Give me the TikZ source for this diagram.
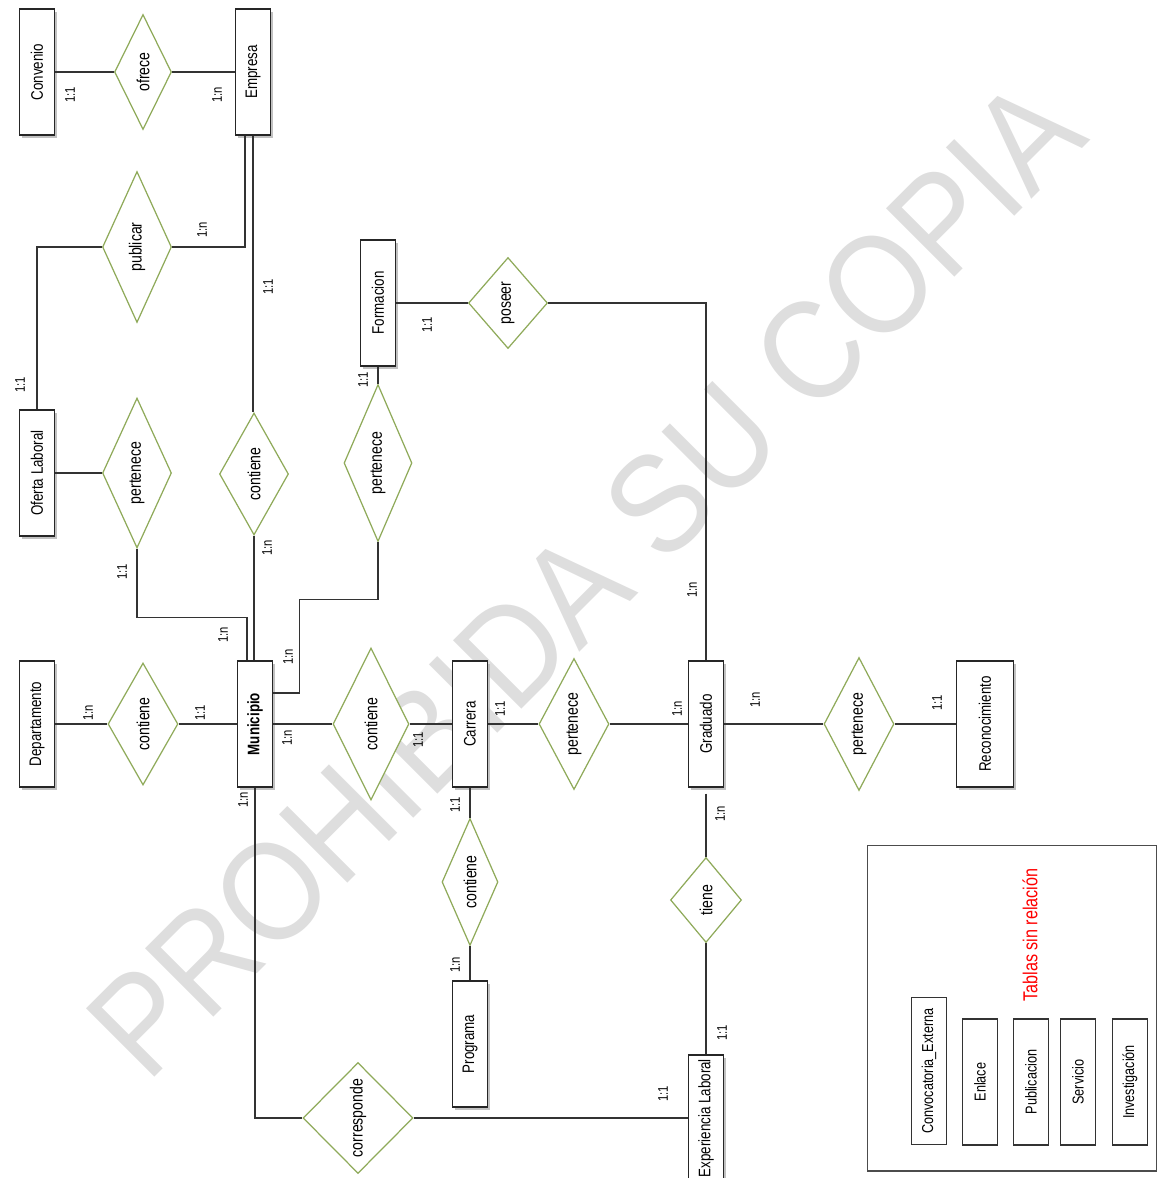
\documentclass[tikz,border=0pt]{standalone}
\usepackage{fontspec}
\setmainfont{Liberation Sans}
\newfontfamily\erfont[FakeStretch=0.8]{Liberation Sans}
\newfontfamily\wmfont[FakeStretch=0.9]{Liberation Sans}
\usetikzlibrary{shapes.geometric,shadows,calc}
\definecolor{relgreen}{RGB}{143,170,90}
\newcommand{\rtext}[1]{\rotatebox{90}{#1}}

\begin{document}
\begin{tikzpicture}[x=0.02cm, y=-0.02cm,
    entity/.style={draw=black!85, line width=0.8pt, fill=white, inner sep=0pt,
      minimum width=0.7cm, minimum height=2.52cm,
      font=\erfont\fontsize{9.5}{10}\selectfont,
      drop shadow={shadow xshift=1.5pt, shadow yshift=-1.5pt, fill=black!30, opacity=.8}},
    rel/.style 2 args={diamond, draw=relgreen, line width=0.7pt, fill=white,
      inner sep=0pt, aspect=0.5, minimum width=#1*0.02cm, minimum height=#2*0.02cm,
      font=\erfont\fontsize{10}{10}\selectfont},
    link/.style={draw=black!80, line width=0.7pt},
    card/.style={font=\erfont\fontsize{8}{8}\selectfont, rotate=90, inner sep=0pt},
    tbl/.style={draw=black!80, line width=0.6pt, fill=white, inner sep=0pt,
      minimum width=0.7cm, minimum height=2.52cm,
      font=\erfont\fontsize{9}{9}\selectfont},
    wmark/.style={text=black!13, rotate=45, inner sep=0pt,
      font=\wmfont\fontsize{80}{80}\selectfont}]
  \useasboundingbox (0,0) rectangle (1161,1178);
  % Watermark
  \node[wmark] (wm) at (585,578) {PROHIBIDA SU COPIA};

  % Entities
  \node[entity] (convenio) at (37,72) {\rtext{Convenio}};
  \node[entity] (empresa) at (253,72) {\rtext{Empresa}};
  \node[entity] (oferta) at (37,473) {\rtext{Oferta Laboral}};
  \node[entity] (formacion) at (378,303) {\rtext{Formacion}};
  \node[entity] (departamento) at (37,724) {\rtext{Departamento}};
  \node[entity] (municipio) at (255,724) {\rtext{\bfseries Municipio}};
  \node[entity] (carrera) at (470,724) {\rtext{Carrera}};
  \node[entity] (graduado) at (706,724) {\rtext{Graduado}};
  \node[entity, minimum width=1.14cm] (reconocimiento) at (985,724) {\rtext{Reconocimiento}};
  \node[entity] (programa) at (470,1044) {\rtext{Programa}};
  \node[entity] (experiencia) at (706,1118) {\rtext{Experiencia Laboral}};

  % Relations
  \node[rel={57}{115}] (ofrece) at (143,72) {\rtext{ofrece}};
  \node[rel={69}{151}] (publicar) at (137,247) {\rtext{publicar}};
  \node[rel={69}{150}] (pertOferta) at (137,473) {\rtext{pertenece}};
  \node[rel={69}{122}] (contEmpresa) at (254,474) {\rtext{contiene}};
  \node[rel={68}{157}] (pertFormacion) at (378,463) {\rtext{pertenece}};
  \node[rel={79}{91}] (poseer) at (508,303) {\rtext{poseer}};
  \node[rel={70}{122}] (contDepto) at (143,724) {\rtext{contiene}};
  \node[rel={76}{152}] (contCarrera) at (371,724) {\rtext{contiene}};
  \node[rel={70}{131}] (pertGraduado) at (574,724) {\rtext{pertenece}};
  \node[rel={70}{133}] (pertReconoc) at (859,724) {\rtext{pertenece}};
  \node[rel={56}{127}] (contPrograma) at (470,882) {\rtext{contiene}};
  \node[rel={71}{85}] (tiene) at (706,900) {\rtext{tiene}};
  \node[rel={110}{110}] (corresponde) at (358,1118) {\rtext{corresponde}};

  % Links, top part
  \draw[link] (convenio) -- (ofrece) -- (empresa);
  \draw[link] (publicar.east) -| ($(empresa.south)+(-8,0)$);
  \draw[link] (publicar.west) -| (oferta.north);
  \draw[link] (empresa.south) -- (empresa.south |- contEmpresa.north);
  \draw[link] (contEmpresa.south) -- (contEmpresa.south |- municipio.north);
  \draw[link] (oferta) -- (pertOferta);
  \draw[link] (pertOferta.south) -- ++(0,69) -| ($(municipio.north)+(-8,0)$);
  \draw[link] (formacion) -- (poseer);
  \draw[link] (poseer.east) -| (graduado.north);
  \draw[link] (formacion) -- (pertFormacion);
  \draw[link] (pertFormacion.south) -- ++(0,57) -| ($(municipio.east)+(26,-31)$)
    -- ($(municipio.east)+(0,-31)$);
  % Links, middle row
  \draw[link] (departamento) -- (contDepto) -- (municipio);
  \draw[link] (municipio) -- (contCarrera) -- (carrera) -- (pertGraduado)
    -- (graduado) -- (pertReconoc) -- (reconocimiento);
  % Links, bottom part
  \draw[link] (carrera) -- (contPrograma) -- (programa);
  \draw[link, shorten <=3.4pt] (graduado) -- (tiene);
  \draw[link] (tiene) -- (experiencia);
  \draw[link] (municipio.south) |- (corresponde.west);
  \draw[link] (corresponde) -- (experiencia);

  % Cardinalities
  \foreach \x/\y/\t [count=\i] in {70/95/1:1, 217/95/1:n, 202/230/1:n, 268/287/1:1,
      20/385/1:1, 122/572/1:1, 267/548/1:n, 223/635/1:n, 288/657/1:n,
      363/380/1:1, 427/325/1:1, 692/590/1:n, 88/713/1:n, 200/713/1:1,
      287/738/1:n, 418/740/1:1, 500/709/1:1, 677/709/1:n, 755/700/1:n,
      937/703/1:1, 243/800/1:n, 455/805/1:1, 455/965/1:n, 720/814/1:n,
      722/1033/1:1, 663/1094/1:1} {
    \node[card] (card\i) at (\x,\y) {\t};
  }

  % Tables without relation
  \node[draw=black!70, line width=0.6pt, minimum width=5.78cm, minimum height=6.52cm,
    inner sep=0pt] (sinrel) at (1012,1008) {};
  \node[rotate=90, text=red, inner sep=0pt, font=\erfont\fontsize{11.5}{12}\selectfont]
    (titulo) at (1030,935) {Tablas sin relación};
  \node[tbl, minimum height=2.94cm] (convocatoria) at (929,1071) {\rtext{Convocatoria\_Externa}};
  \foreach \x/\t [count=\i] in {980/Enlace, 1031/Publicacion, 1078/Servicio, 1130/Investigación} {
    \node[tbl] (tabla\i) at (\x,1082) {\rtext{\t}};
  }
\end{tikzpicture}
\end{document}
